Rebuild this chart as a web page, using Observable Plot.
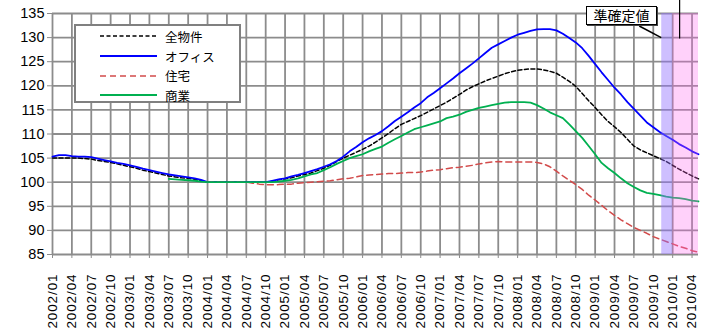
<!DOCTYPE html>
<html><head><meta charset="utf-8">
<script src="https://cdn.jsdelivr.net/npm/d3@7"></script>
<script src="https://cdn.jsdelivr.net/npm/@observablehq/plot@0.6"></script>
<style>
body{margin:0;background:#fff;}
#wrap{position:relative;width:706px;height:334px;overflow:hidden;}
#legend{position:absolute;left:74px;top:24px;width:163px;height:75px;border:2px solid #808080;background:#fff;font-family:"Noto Sans CJK JP",sans-serif;font-size:12.5px;color:#000;}
.row{position:absolute;left:0;height:20px;display:flex;align-items:center;}
.row svg{margin-left:24px;margin-right:8px;}
#note{position:absolute;left:586px;top:6px;width:69px;height:17px;border:1.5px solid #000;background:#fff;box-shadow:1px 1px 0 #444;font-family:"Noto Sans CJK JP",sans-serif;font-size:14px;line-height:17px;text-align:center;color:#000;}
#over{position:absolute;left:0;top:0;pointer-events:none;}
</style></head><body><div id="wrap"></div>
<script>
// month categories 2002/01 .. 2010/05
const months = [];
for (let y = 2002; y <= 2010; y++) for (let m = 1; m <= 12; m++) {
  if (y === 2010 && m > 5) break;
  months.push(`${y}/${String(m).padStart(2, "0")}`);
}
const xTicks = months.filter((d, i) => i % 3 === 0);
const yTicks = [85, 90, 95, 100, 105, 110, 115, 120, 125, 130, 135];
const seriesNames = ["全物件", "オフィス", "住宅", "商業"];

const allProps = [
105.0,105.0,105.0,105.0,105.0,104.9,104.8,104.5,104.3,104.1,
103.8,103.5,103.2,102.9,102.5,102.2,101.9,101.6,101.3,101.1,
100.9,100.8,100.6,100.3,100.0,100.0,100.0,100.0,100.0,100.0,
100.0,100.0,100.0,100.0,100.2,100.5,100.7,100.9,101.3,101.6,
101.9,102.4,102.9,103.5,104.3,105.0,105.6,106.2,106.8,107.5,
108.3,109.2,110.1,111.1,112.0,112.6,113.2,113.8,114.5,115.2,
115.9,116.6,117.4,118.2,119.1,119.8,120.4,121.0,121.5,122.0,
122.5,122.9,123.2,123.4,123.5,123.5,123.3,123.0,122.6,121.8,
120.9,119.9,118.4,116.9,115.5,114.0,112.6,111.5,110.3,108.9,
107.5,106.7,106.1,105.5,104.9,104.3,103.5,102.7,102.0,101.3,100.7];

const office = [
105.3,105.6,105.6,105.4,105.3,105.3,105.2,104.9,104.6,104.3,
104.0,103.8,103.5,103.2,102.8,102.5,102.2,101.9,101.6,101.4,
101.2,101.0,100.8,100.5,100.0,100.0,100.0,100.0,100.0,100.0,
100.0,100.0,100.0,100.0,100.3,100.6,100.8,101.2,101.5,101.9,
102.3,102.7,103.2,103.7,104.4,105.3,106.4,107.3,108.3,109.1,
109.8,110.6,111.6,112.7,113.6,114.5,115.5,116.4,117.6,118.5,
119.5,120.5,121.5,122.6,123.6,124.6,125.7,126.8,127.9,128.6,
129.3,130.0,130.6,131.0,131.4,131.7,131.75,131.75,131.5,130.8,
129.9,129.0,127.8,126.2,124.5,122.8,121.2,119.6,118.2,116.6,
115.2,113.8,112.4,111.4,110.4,109.6,108.8,107.9,107.2,106.4,105.8];

const residential = [
null,null,null,null,null,null,null,null,null,null,
null,null,null,null,null,null,null,null,null,null,
null,null,null,null,100.0,100.0,100.0,100.0,100.0,100.0,
100.0,99.8,99.6,99.5,99.45,99.5,99.6,99.6,99.8,99.9,
100.0,100.1,100.2,100.3,100.5,100.7,100.8,101.1,101.4,101.5,
101.6,101.7,101.8,101.8,101.9,102.0,102.0,102.1,102.3,102.5,
102.6,102.8,103.0,103.1,103.3,103.5,103.8,104.0,104.2,104.3,
104.2,104.2,104.2,104.2,104.2,104.1,103.8,103.2,102.3,101.3,
100.4,99.5,98.5,97.3,96.3,95.2,94.1,93.1,92.2,91.4,
90.6,90.0,89.4,88.7,88.2,87.7,87.2,86.7,86.3,85.8,85.5];

const commercial = [
null,null,null,null,null,null,null,null,null,null,
null,null,null,null,null,null,null,null,100.7,100.6,
100.5,100.4,100.3,100.1,100.0,100.0,100.0,100.0,100.0,100.0,
100.0,100.0,100.0,100.0,100.0,100.1,100.3,100.5,100.8,101.2,
101.6,101.9,102.5,103.1,103.8,104.4,105.0,105.4,105.8,106.4,
106.9,107.4,108.2,108.9,109.6,110.3,111.0,111.4,111.8,112.2,
112.6,113.3,113.6,114.0,114.6,115.0,115.4,115.7,116.0,116.25,
116.5,116.6,116.6,116.6,116.5,116.0,115.3,114.5,113.9,113.3,
112.0,110.6,109.2,107.5,105.8,104.0,102.9,101.9,100.8,99.8,
99.0,98.3,97.8,97.6,97.3,97.0,96.8,96.7,96.5,96.2,96.0];

const colors = ["#000000", "#0000ff", "#d24b4b", "#00b050"];
const dashes = ["4,2.5", null, "6,4", null];
const widths = [1.5, 1.8, 1.5, 1.8];
const seriesValues = [allProps, office, residential, commercial];

const shadeBands = [
  {from: "2009/11", to: "2010/01", fill: "#9370ff", opacity: 0.45, inset: 2},
  {from: "2010/01", to: "2010/05", fill: "#ff66f0", opacity: 0.3, inset: 0}
];

const rows = [];
seriesValues.forEach((vals, s) => vals.forEach((v, i) => rows.push({series: s, month: months[i], value: v})));

const lineMarks = seriesValues.map((vals, s) =>
  Plot.line(rows.filter(r => r.series === s), {
    x: "month", y: "value", defined: d => d.value != null,
    stroke: colors[s], strokeWidth: widths[s], strokeDasharray: dashes[s] ?? undefined
  })
);

const chart = Plot.plot({
  width: 706, height: 334,
  marginLeft: 52, marginRight: 8, marginTop: 13, marginBottom: 80,
  style: {fontFamily: "'Liberation Sans', Arial, sans-serif", fontSize: "14px", color: "#000", background: "#fff", overflow: "visible"},
  x: {type: "point", domain: months, padding: 0},
  y: {domain: [85, 135]},
  marks: [
    Plot.gridX(xTicks, {stroke: "#8c8c8c", strokeOpacity: 1, strokeWidth: 1.8}),
    Plot.gridY(yTicks, {stroke: "#8c8c8c", strokeOpacity: 1, strokeWidth: 1.8}),
    Plot.axisX(xTicks, {tickRotate: -90, tickSize: 4, tickPadding: 15, label: null, stroke: "#8c8c8c", fontSize: 13.5, fill: "#000"}),
    Plot.axisY(yTicks, {tickSize: 5, tickPadding: 3, label: null, stroke: "#8c8c8c", fontSize: 14.5, fill: "#000"}),
    ...lineMarks,
    ...shadeBands.map(b => Plot.rect([b], {x1: "from", x2: "to", y1: 85, y2: 135, fill: b.fill, fillOpacity: b.opacity, insetLeft: b.inset}))
  ]
});
d3.select(chart).selectAll("g[aria-label='x-axis tick label'] text").style("letter-spacing", "0.9px");

const wrap = document.getElementById("wrap");
wrap.appendChild(chart);

// legend
const leg = document.createElement("div");
leg.id = "legend";
const rowTops = [0, 20, 39.5, 59];
seriesNames.forEach((name, s) => {
  const r = document.createElement("div");
  r.className = "row";
  r.style.top = rowTops[s] + "px";
  r.innerHTML = `<svg width="57" height="6"><line x1="0" x2="57" y1="3" y2="3" stroke="${colors[s]}" stroke-width="${widths[s]}" ${dashes[s] ? `stroke-dasharray="${dashes[s]}"` : ""}/></svg><span>${name}</span>`;
  leg.appendChild(r);
});
wrap.appendChild(leg);

// annotation
const xs = chart.scale("x"), ys = chart.scale("y");
const over = d3.select(wrap).append("svg").attr("id", "over").attr("width", 706).attr("height", 334);
const bandLeft = xs.apply("2009/11") + 2;
over.append("line").attr("x1", bandLeft - 22).attr("y1", 26).attr("x2", bandLeft).attr("y2", ys.apply(130) + 0.5)
  .attr("stroke", "#000").attr("stroke-width", 1.5);
over.append("line").attr("x1", xs.apply("2010/02") + 1).attr("x2", xs.apply("2010/02") + 1).attr("y1", 0).attr("y2", ys.apply(129.7))
  .attr("stroke", "#000").attr("stroke-width", 1.2);
const note = document.createElement("div");
note.id = "note";
note.textContent = "準確定値";
wrap.appendChild(note);
</script></body></html>
